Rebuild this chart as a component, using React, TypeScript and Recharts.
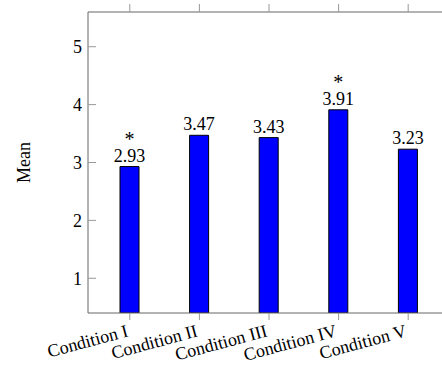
import React from "react"
import { BarChart, Bar, XAxis, YAxis, LabelList } from "recharts"

const categories = ["Condition I", "Condition II", "Condition III", "Condition IV", "Condition V"]
const means = [2.93, 3.47, 3.43, 3.91, 3.23]
const significant = [true, false, false, true, false]
const yTicks = [1, 2, 3, 4, 5]

const data = categories.map((c, i) => ({ category: c, mean: means[i] }))

const FONT = "Liberation Serif, serif"
const textStyle = { fontFamily: FONT, fontSize: 18 }

const XTick = ({ x, y, payload }: { x?: number; y?: number; payload?: { value: string } }) => {
  const px = Number(x) - 4
  const py = Number(y) + 2
  return (
    <text
      x={px}
      y={py}
      dy="0.7em"
      textAnchor="end"
      style={textStyle}
      fill="#000"
      transform={`rotate(-15, ${px}, ${py})`}
    >
      {payload?.value}
    </text>
  )
}

// value above each bar, with a star stacked on top for the significant ones
const renderLabel = (props: any) => {
  const { x, y, width, value, index } = props
  const cx = Number(x) + Number(width) / 2
  const top = Number(y)
  return (
    <text textAnchor="middle" style={textStyle} fill="#000">
      {significant[index] && (
        <tspan x={cx} y={top - 21} style={{ fontSize: 20 }}>
          *
        </tspan>
      )}
      <tspan x={cx} y={top - 5}>
        {Number(value).toFixed(2)}
      </tspan>
    </text>
  )
}

export default function App() {
  return (
    <div style={{ position: "absolute", left: 0, top: 0, width: 442, height: 367, overflow: "hidden", background: "#fff" }}>
      <BarChart width={460} height={367} data={data} margin={{ top: 4, right: 10, left: 0, bottom: 0 }}>
        <XAxis
          dataKey="category"
          height={54}
          padding={{ left: 7, right: 7 }}
          axisLine={{ stroke: "#666", strokeWidth: 1 }}
          tickLine={{ stroke: "#999" }}
          tickSize={7}
          tick={<XTick />}
          interval={0}
        />
        <XAxis
          xAxisId="top"
          dataKey="category"
          orientation="top"
          height={8}
          padding={{ left: 7, right: 7 }}
          axisLine={{ stroke: "#666", strokeWidth: 1 }}
          tickLine={{ stroke: "#999" }}
          tickSize={8}
          tick={() => <g />}
          interval={0}
        />
        <YAxis
          width={88}
          domain={[0.4, 5.6]}
          ticks={yTicks}
          allowDataOverflow
          axisLine={{ stroke: "#666", strokeWidth: 1 }}
          tickLine={{ stroke: "#999" }}
          tickSize={-8}
          tickMargin={14}
          tick={{ ...textStyle, fill: "#000" }}
          label={{ value: "Mean", angle: -90, position: "insideLeft", offset: 24, fill: "#000", style: { ...textStyle, textAnchor: "middle" } }}
        />
        <Bar dataKey="mean" barSize={19} fill="#0000ff" stroke="#000" strokeWidth={1} isAnimationActive={false}>
          <LabelList dataKey="mean" content={renderLabel} />
        </Bar>
      </BarChart>
    </div>
  )
}
